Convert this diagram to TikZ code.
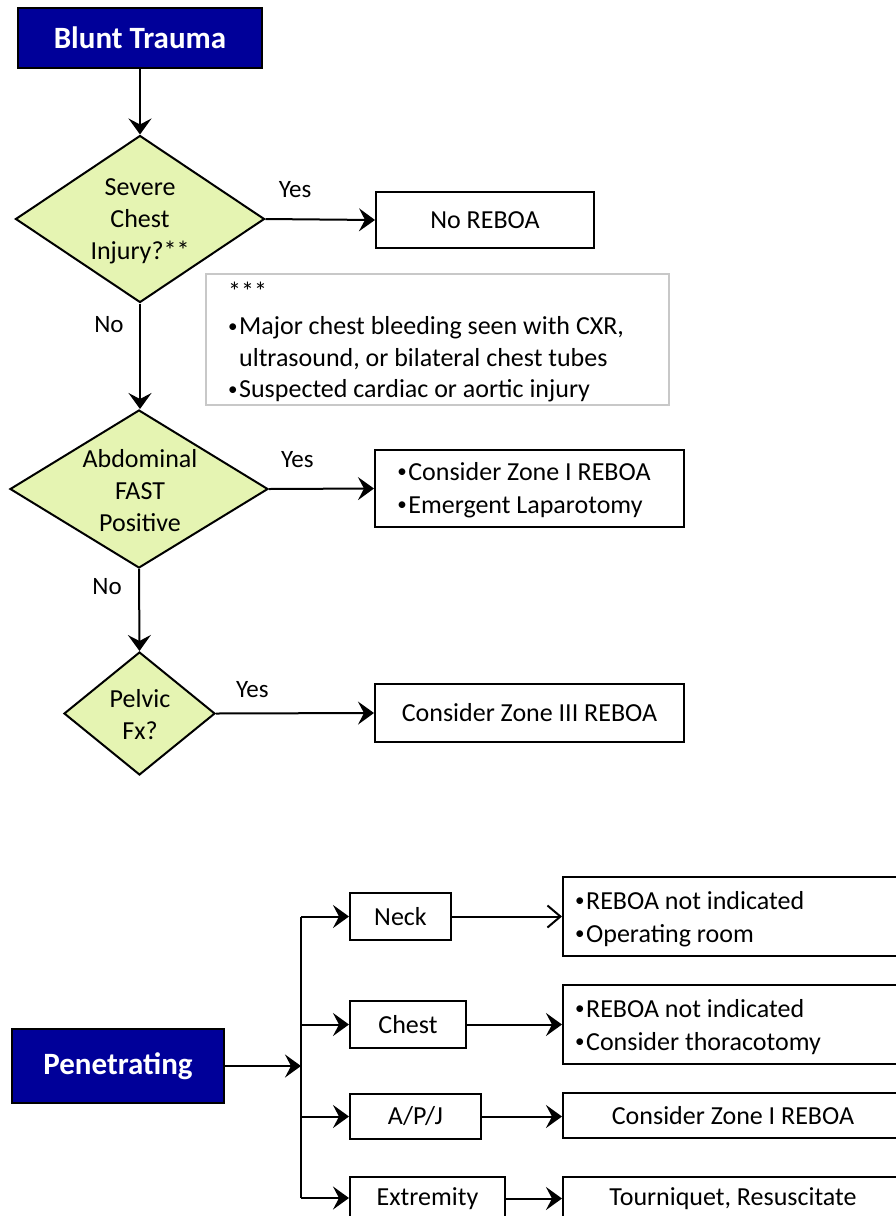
\documentclass[tikz,border=0pt]{standalone}
\usepackage{fontspec}
\setmainfont{Carlito}
\usetikzlibrary{shapes.geometric,arrows.meta}
\definecolor{navy}{RGB}{0,0,153}
\definecolor{diafill}{RGB}{229,244,178}
\definecolor{notegray}{RGB}{200,200,200}
\tikzset{
  base/.style={line width=2pt},
  titlebox/.style={base,draw=black,fill=navy,text=white,font=\fontsize{31}{36}\selectfont\bfseries,inner sep=0pt},
  plainbox/.style={base,draw=black,fill=white,font=\fontsize{26}{32.5}\selectfont,inner sep=0pt},
  decision/.style={base,draw=black,fill=diafill,diamond,inner sep=0pt},
  dtext/.style={font=\fontsize{26}{32}\selectfont,align=center,inner sep=0pt},
  btext/.style={font=\fontsize{26}{33}\selectfont,align=left,inner sep=0pt},
  lbl/.style={font=\fontsize{25}{30}\selectfont,inner sep=0pt},
  arr/.style={base,-{Stealth[length=16pt,width=23pt,inset=6pt]}},
  openarr/.style={base,-{Straight Barb[length=13pt,width=22pt]}},
}
\newcommand{\bul}{\raisebox{2.5pt}{\fontsize{19}{19}\selectfont •}\hspace{1.5pt}}
\begin{document}
\begin{tikzpicture}[x=1pt,y=-1pt]
\useasboundingbox (0,0) rectangle (896,1216);
\clip (0,0) rectangle (896,1216);
\fill[white] (0,0) rectangle (896,1216);

% ---------- Blunt trauma ----------
\node[titlebox,minimum width=244pt,minimum height=60pt] (blunt) at (140,38) {Blunt Trauma};

\node[decision,minimum width=249pt,minimum height=167pt] (d1) at (140,219) {};
\node[dtext] (d1t) at (140,221) {Severe\\Chest\\Injury?**};

\node[plainbox,minimum width=218pt,minimum height=56pt] (noreboa) at (485,220) {No REBOA};

\node[base,draw=notegray,fill=white,minimum width=463pt,minimum height=131pt,inner sep=0pt] (note) at (437.5,339.5) {};
\node[btext,anchor=west,font=\fontsize{26}{31.5}\selectfont] (notet) at (228,342)
  {***\\[3pt]\bul Major chest bleeding seen with CXR,\\\phantom{\bul}ultrasound, or bilateral chest tubes\\\bul Suspected cardiac or aortic injury};

\node[decision,minimum width=258pt,minimum height=158pt] (d2) at (139,489) {};
\node[dtext] (d2t) at (140,491) {Abdominal\\FAST\\Positive};

\node[plainbox,minimum width=309pt,minimum height=77pt] (r2) at (529.5,488.5) {};
\node[btext] (r2t) at (524,490) {\bul Consider Zone I REBOA\\\bul Emergent Laparotomy};

\node[decision,minimum width=151pt,minimum height=123pt] (d3) at (139.5,713.5) {};
\node[dtext] (d3t) at (140,715) {Pelvic\\Fx?};

\node[plainbox,minimum width=309pt,minimum height=58pt] (r3) at (529.5,713) {Consider Zone III REBOA};

\draw[arr] (blunt.south) -- (d1.north);
\draw[arr] (d1.east) -- node[lbl,pos=0.27,yshift=30pt] (y1) {Yes} (noreboa.west);
\draw[arr] (d1.south) -- node[lbl,pos=0.2,xshift=-31pt] (n1) {No} (d2.north -| d1.south);
\draw[arr] (d2.east) -- node[lbl,pos=0.27,yshift=29pt] (y2) {Yes} (r2.west);
\draw[arr] (d2.south) -- node[lbl,pos=0.21,xshift=-32pt] (n2) {No} (d3.north);
\draw[arr] (d3.east) -- node[lbl,pos=0.23,yshift=24pt] (y3) {Yes} (r3.west);

% ---------- Penetrating ----------
\node[titlebox,minimum width=212pt,minimum height=74pt] (pen) at (118,1066) {Penetrating};

\node[plainbox,minimum width=101pt,minimum height=47pt] (neck) at (400.5,916.5) {Neck};
\node[plainbox,minimum width=116pt,minimum height=47pt] (chest) at (408,1024.5) {Chest};
\node[plainbox,minimum width=131pt,minimum height=45pt] (apj) at (415.5,1116.5) {A/P/J};
\node[plainbox,minimum width=155pt,minimum height=44pt] (ext) at (427.5,1198.5) {Extremity};

\node[plainbox,minimum width=340pt,minimum height=79pt] (rneck) at (733,916.5) {};
\node[btext,anchor=west] (rneckt) at (575,919) {\bul REBOA not indicated\\\bul Operating room};
\node[plainbox,minimum width=340pt,minimum height=79pt] (rchest) at (733,1024.5) {};
\node[btext,anchor=west] (rchestt) at (575,1027) {\bul REBOA not indicated\\\bul Consider thoracotomy};
\node[plainbox,minimum width=340pt,minimum height=45pt] (rapj) at (733,1115.5) {Consider Zone I REBOA};
\node[plainbox,minimum width=340pt,minimum height=44pt] (rext) at (733,1198.5) {Tourniquet, Resuscitate};

\coordinate (ttop) at (301,916.5);
\coordinate (tbot) at (301,1198);
\draw[base] (ttop) -- (tbot);
\draw[arr] (pen.east) -- (pen.east -| ttop);
\draw[arr] (ttop) -- (neck.west);
\draw[arr] (chest.west -| ttop) -- (chest.west);
\draw[arr] (apj.west -| ttop) -- (apj.west);
\draw[arr] (tbot) -- (tbot -| ext.west);

\draw[openarr] (neck.east) -- (rneck.west);
\draw[arr] (chest.east) -- (rchest.west);
\draw[arr] (apj.east) -- (apj.east -| rapj.west);
\draw[arr] (ext.east) -- (ext.east -| rext.west);
\end{tikzpicture}
\end{document}
